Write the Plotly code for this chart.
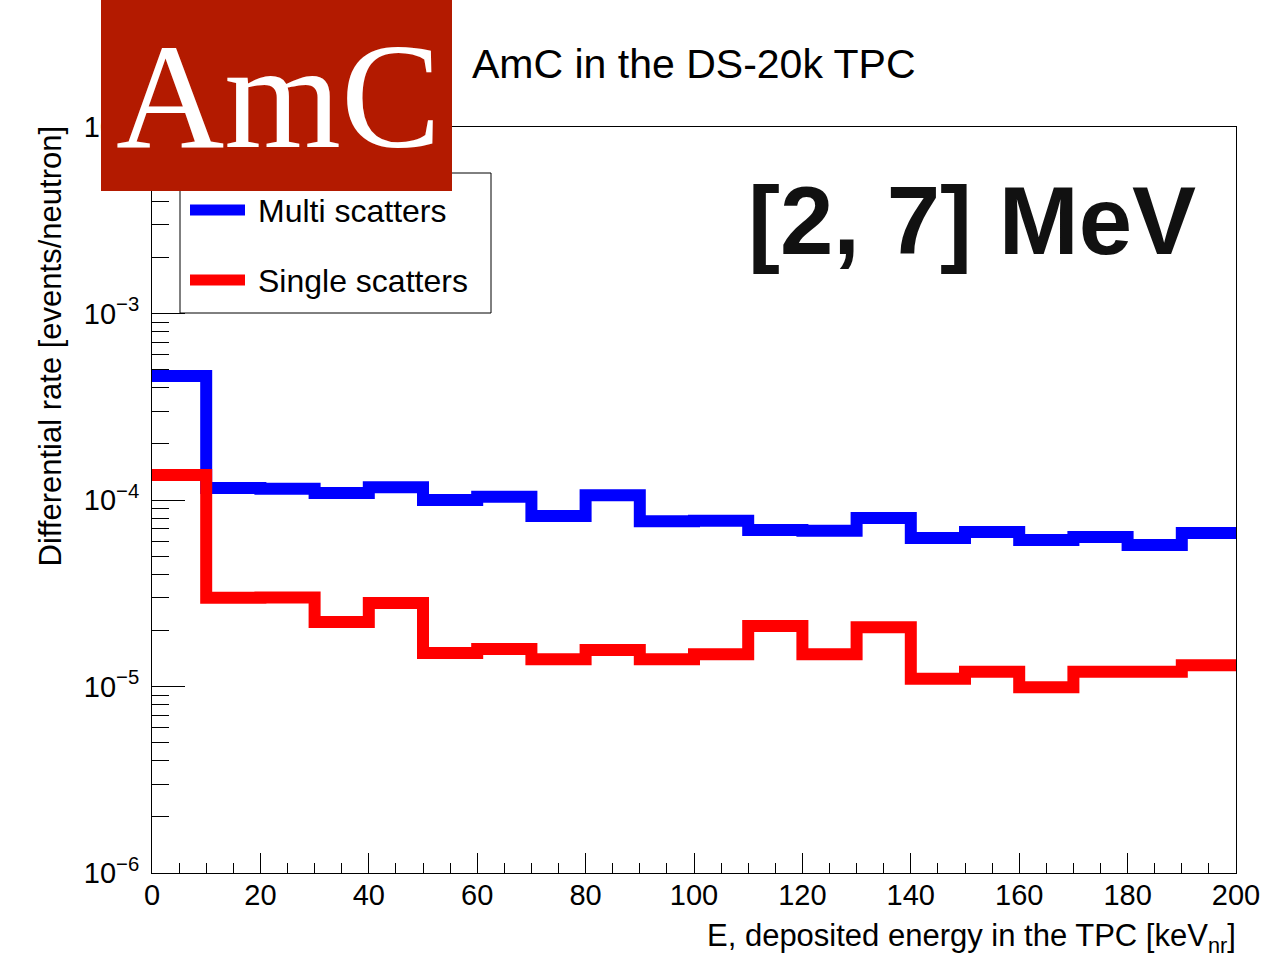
import plotly.graph_objects as go

# ---- data ----
bin_edges = [0, 10, 20, 30, 40, 50, 60, 70, 80, 90, 100, 110, 120, 130, 140, 150, 160, 170, 180, 190, 200]
multi_scatters = [4.62e-4, 1.16e-4, 1.15e-4, 1.09e-4, 1.17e-4, 1.00e-4, 1.04e-4, 8.2e-5, 1.06e-4, 7.7e-5,
                  7.75e-5, 6.9e-5, 6.85e-5, 8.0e-5, 6.25e-5, 6.74e-5, 6.1e-5, 6.34e-5, 5.74e-5, 6.65e-5]
single_scatters = [1.36e-4, 2.99e-5, 3.0e-5, 2.22e-5, 2.8e-5, 1.51e-5, 1.59e-5, 1.40e-5, 1.57e-5, 1.40e-5,
                   1.49e-5, 2.11e-5, 1.49e-5, 2.08e-5, 1.10e-5, 1.20e-5, 9.9e-6, 1.2e-5, 1.2e-5, 1.30e-5]
y_tick_vals = [1e-6, 1e-5, 1e-4, 1e-3, 1e-2]
y_tick_text = ["10<sup>\u22126</sup>", "10<sup>\u22125</sup>", "10<sup>\u22124</sup>", "10<sup>\u22123</sup>", "10<sup>\u22122</sup>"]
x_tick_vals = [0, 20, 40, 60, 80, 100, 120, 140, 160, 180, 200]

W, H = 1261, 959
L, R, T, B = 152, 25, 127, 86
PW, PH = W - L - R, H - T - B
FONT = "Liberation Sans, Arial, Helvetica, sans-serif"


def px(x):
    return (x - L) / PW


def py(y):
    return (H - B - y) / PH


def steps(vals):
    return bin_edges, list(vals) + [vals[-1]]


fig = go.Figure()
for vals, color, name in [(multi_scatters, "#0000ff", "Multi scatters"),
                          (single_scatters, "#ff0000", "Single scatters")]:
    xs, ys = steps(vals)
    fig.add_trace(go.Scatter(x=xs, y=ys, mode="lines", line=dict(color=color, width=12, shape="hv"),
                             name=name, showlegend=False, hoverinfo="skip"))

shapes = []
annotations = []

# legend box
shapes.append(dict(type="rect", xref="paper", yref="paper", x0=px(180), x1=px(491), y0=py(313), y1=py(173),
                   line=dict(color="black", width=1), fillcolor="white", layer="above"))
for yy, color, name in [(210, "#0000ff", "Multi scatters"), (280, "#ff0000", "Single scatters")]:
    shapes.append(dict(type="line", xref="paper", yref="paper", x0=px(190), x1=px(245), y0=py(yy), y1=py(yy),
                       line=dict(color=color, width=11), layer="above"))
    annotations.append(dict(xref="paper", yref="paper", x=px(256), y=py(yy + 1), text=name, showarrow=False,
                            xanchor="left", yanchor="middle", font=dict(family=FONT, size=32, color="black")))

# AmC box
shapes.append(dict(type="rect", xref="paper", yref="paper", x0=px(101), x1=px(452), y0=py(191), y1=py(-5),
                   line=dict(width=0), fillcolor="#b31a00", layer="above"))
annotations.append(dict(xref="paper", yref="paper", x=px(278), y=py(96), text="AmC", showarrow=False,
                        xanchor="center", yanchor="middle",
                        font=dict(family="Liberation Serif, Times New Roman, serif", size=150, color="white")))

# title
annotations.append(dict(xref="paper", yref="paper", x=px(470), y=py(64), text="AmC in the DS-20k TPC",
                        showarrow=False, xanchor="left", yanchor="middle",
                        font=dict(family=FONT, size=41, color="black")))
# energy range label
annotations.append(dict(xref="paper", yref="paper", x=px(1198), y=py(220), text="<b>[2, 7] MeV</b>",
                        showarrow=False, xanchor="right", yanchor="middle",
                        font=dict(family=FONT, size=96, color="#111111")))
# axis titles
annotations.append(dict(xref="paper", yref="paper", x=px(1238), y=py(938),
                        text="E, deposited energy in the TPC [keV<sub>nr</sub>]",
                        showarrow=False, xanchor="right", yanchor="middle",
                        font=dict(family=FONT, size=31, color="black")))
annotations.append(dict(xref="paper", yref="paper", x=px(50), y=py(124),
                        text="Differential rate [events/neutron]", textangle=-90,
                        showarrow=False, xanchor="center", yanchor="top",
                        font=dict(family=FONT, size=31, color="black")))

fig.update_layout(
    width=W, height=H,
    margin=dict(l=L, r=R, t=T, b=B, pad=0),
    paper_bgcolor="white", plot_bgcolor="white",
    shapes=shapes, annotations=annotations,
    showlegend=False,
    font=dict(family=FONT, color="black"),
)
fig.update_xaxes(range=[0, 200], automargin=False, showgrid=False, zeroline=False, showline=True,
                 linecolor="black", linewidth=1,
                 mirror=True, ticks="inside", ticklen=20, tickcolor="black", tickvals=x_tick_vals,
                 tickfont=dict(family=FONT, size=29), ticklabelstandoff=-4,
                 minor=dict(ticks="inside", ticklen=10, dtick=5, tickcolor="black", showgrid=False))
fig.update_yaxes(type="log", range=[-6, -2], automargin=False, showgrid=False, zeroline=False, showline=True,
                 linecolor="black",
                 linewidth=1, mirror=True, ticks="inside", ticklen=33, tickcolor="black",
                 tickvals=y_tick_vals, ticktext=y_tick_text, tickfont=dict(family=FONT, size=29),
                 ticklabelstandoff=6,
                 minor=dict(ticks="inside", ticklen=17, dtick="D1", tickcolor="black", showgrid=False))

fig.write_html("out.html")
